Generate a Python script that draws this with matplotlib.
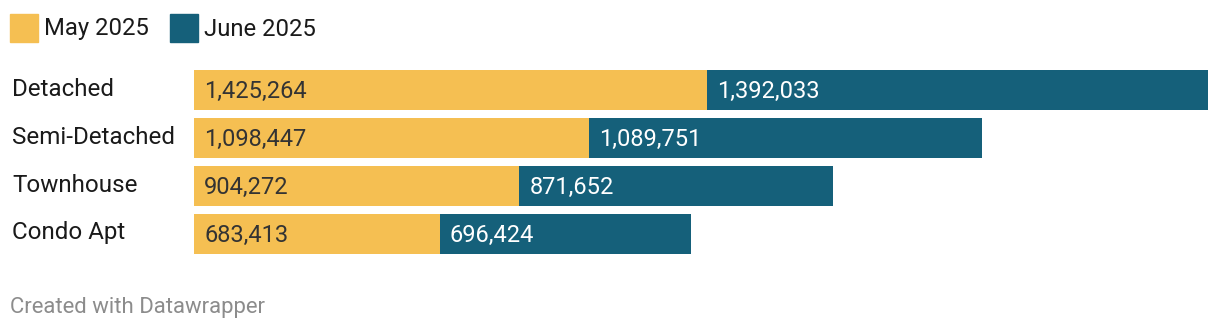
import matplotlib.pyplot as plt
from matplotlib.patches import Rectangle

plt.rcParams['font.family'] = ['Roboto', 'DejaVu Sans']

categories = ['Detached', 'Semi-Detached', 'Townhouse', 'Condo Apt']
may_2025 = [1425264, 1098447, 904272, 683413]
june_2025 = [1392033, 1089751, 871652, 696424]
series_names = ['May 2025', 'June 2025']

C_MAY = '#F5BF52'
C_JUNE = '#15607A'

W, H = 1220, 330
fig = plt.figure(figsize=(W / 100, H / 100), dpi=100)

# axes placed in pixel coords: bars from x=194 to 1208, y=70 to 254
x0, x1, y0, y1 = 194, 1208, 70, 254
ax = fig.add_axes([x0 / W, 1 - y1 / H, (x1 - x0) / W, (y1 - y0) / H])
ax.axis('off')

bh = 40 / 48
ypos = list(range(len(categories)))
totals = [a + b for a, b in zip(may_2025, june_2025)]
ax.barh(ypos, may_2025, height=bh, color=C_MAY)
ax.barh(ypos, june_2025, left=may_2025, height=bh, color=C_JUNE)
ax.set_xlim(0, max(totals))
ax.set_ylim(len(categories) - 1 + bh / 2, -bh / 2)

for i, (m, j) in enumerate(zip(may_2025, june_2025)):
    ax.annotate(f'{m:,}', (0, i), xytext=(10, -1), textcoords='offset pixels',
                ha='left', va='center', fontsize=17, color='#333333')
    ax.annotate(f'{j:,}', (m, i), xytext=(10, -1), textcoords='offset pixels',
                ha='left', va='center', fontsize=17, color='white')
    ax.annotate(categories[i], (12, i), xycoords=('figure pixels', 'data'),
                xytext=(0, 1), textcoords='offset pixels',
                ha='left', va='center', fontsize=17.4, color='#1a1a1a')

# legend
for k, (name, col, px) in enumerate(zip(series_names, [C_MAY, C_JUNE], [10, 170])):
    fig.patches.append(Rectangle((px / W, 1 - 42 / H), 28 / W, 28 / H,
                                 transform=fig.transFigure, color=col))
    fig.text((px + 34) / W, 1 - 29 / H, name, ha='left', va='center',
             fontsize=17.2, color='#1a1a1a')

fig.text(10 / W, 1 - 307 / H, 'Created with Datawrapper', ha='left', va='center',
         fontsize=15.9, color='#8c8c8c')

fig.savefig('out.png', dpi=100, facecolor='white')
